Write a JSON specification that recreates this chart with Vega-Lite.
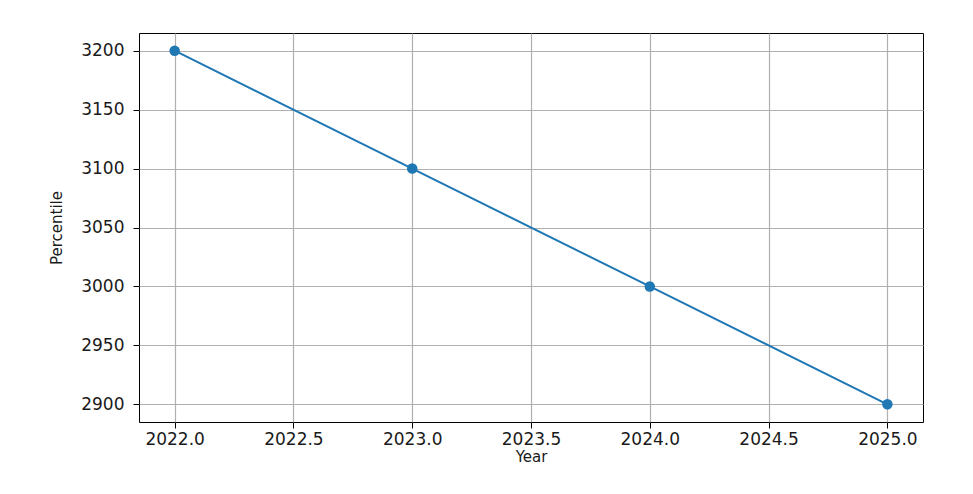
{
  "$schema": "https://vega.github.io/schema/vega-lite/v6.json",
  "autosize": {"type": "none"},
  "width": 784,
  "height": 389,
  "padding": {"left": 139, "top": 33, "right": 50, "bottom": 72},
  "background": "white",
  "config": {
    "view": {"stroke": "black", "strokeWidth": 1},
    "font": "DejaVu Sans",
    "axis": {
      "labelFont": "DejaVu Sans",
      "labelFontSize": 17,
      "labelColor": "#1a1a1a",
      "titleFont": "DejaVu Sans",
      "titleFontSize": 15,
      "titleFontWeight": "normal",
      "titleColor": "#1a1a1a",
      "domain": false,
      "tickColor": "black",
      "tickSize": 6,
      "grid": true,
      "gridColor": "#b0b0b0",
      "gridWidth": 1.2
    }
  },
  "data": {
    "values": [
      {"Year": 2022, "Percentile": 3200},
      {"Year": 2023, "Percentile": 3100},
      {"Year": 2024, "Percentile": 3000},
      {"Year": 2025, "Percentile": 2900}
    ]
  },
  "encoding": {
    "x": {
      "field": "Year",
      "type": "quantitative",
      "scale": {"domain": [2021.85, 2025.15], "nice": false, "zero": false},
      "axis": {
        "values": [2022, 2022.5, 2023, 2023.5, 2024, 2024.5, 2025],
        "format": ".1f",
        "labelPadding": 3,
        "titlePadding": 2
      }
    },
    "y": {
      "field": "Percentile",
      "type": "quantitative",
      "scale": {"domain": [2885, 3215], "nice": false, "zero": false},
      "axis": {
        "values": [2900, 2950, 3000, 3050, 3100, 3150, 3200],
        "format": "d",
        "labelPadding": 9,
        "titleFontSize": 15,
        "titlePadding": 16
      }
    }
  },
  "layer": [
    {"mark": {"type": "line", "color": "#1f77b4", "strokeWidth": 2}},
    {"mark": {"type": "point", "filled": true, "color": "#1f77b4", "size": 110, "opacity": 1}}
  ]
}
